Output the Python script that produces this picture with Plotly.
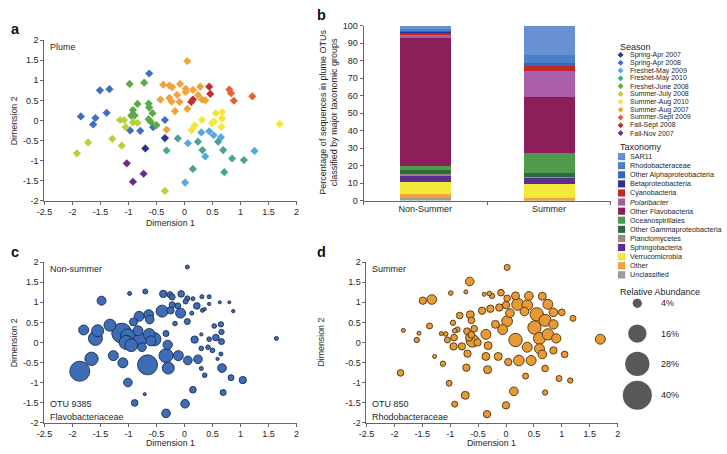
import math
import plotly.graph_objects as go

W, H = 727, 454
FONT = "Liberation Sans, Arial, Helvetica, sans-serif"
TXT = "#262626"
AXC = "#666666"

# ---------------- Panel a: NMDS of plume samples by season ----------------
season_names = ["Spring-Apr 2007", "Spring-Apr 2008", "Freshet-May 2009", "Freshet-May 2010",
                "Freshet-June 2008", "Summer-July 2008", "Summer-Aug 2010", "Summer-Aug 2007",
                "Summer-Sept 2009", "Fall-Sept 2008", "Fall-Nov 2007"]
season_colors = ["#28358c", "#3b70c2", "#57a8df", "#4aa396", "#5aab46", "#b5d23a",
                 "#f6e638", "#f0a33a", "#e4632f", "#bf2f35", "#6b2c8f"]
season_x = [
    [-0.35, -0.70],
    [-0.63, -1.51, -1.34, -1.39, -1.85, -1.59, -1.63, -0.97, -0.79, -0.56, -0.35],
    [0.06, 0.30, 0.44, 0.52, 0.65, 0.37, 0.01, 1.25],
    [-0.12, -0.32, 0.24, 0.32, 0.60, 0.69, 0.85, 1.06, 0.15, 0.71],
    [-0.98, -0.72, -0.84, -0.92, -0.64, -0.63, -0.57, -0.89, -0.95, -0.64, -0.60, -0.50],
    [-1.15, -1.08, -1.05, -1.29, -1.12, -1.72, -1.92, -0.92, -0.84, -0.35],
    [0.56, 0.67, 0.67, 0.53, 0.49, 0.66, 0.31, 0.18, 0.13, 1.70],
    [0.05, -0.38, -0.27, -0.22, -0.08, 0.02, 0.02, 0.15, 0.28, 0.24, -0.43, -0.27, -0.23,
     -0.13, -0.09, -0.17, 0.05, 0.31, 0.37, -0.32],
    [0.80, 0.83, 0.88, 1.21],
    [0.12, 0.15, 0.44, 0.46],
    [-1.03, -0.73, -0.92],
]
season_y = [
    [-0.44, -0.70],
    [1.17, 0.75, 0.78, 0.19, 0.10, 0.06, -0.10, -0.25, -0.26, -0.17, 0.01],
    [-0.57, -0.30, -0.27, -0.37, -0.42, -0.90, -1.55, -0.76],
    [-0.45, -0.75, -0.53, -0.74, -0.53, -0.74, -0.95, -0.99, -1.21, -1.29],
    [0.91, 0.94, 0.41, 0.26, 0.42, 0.32, 0.18, 0.12, 0.12, 0.03, -0.04, -0.12],
    [0.01, 0.01, -0.17, -0.46, -0.63, -0.55, -0.82, -0.05, -0.06, -1.76],
    [0.18, 0.21, 0.05, -0.03, -0.07, -0.16, 0.01, -0.13, -0.24, -0.09],
    [1.48, 0.89, 0.87, 0.83, 0.91, 0.79, 0.71, 0.76, 0.84, 0.63, 0.52, 0.56, 0.47,
     0.64, 0.46, 0.23, 0.29, 0.52, 0.50, -0.23],
    [0.77, 0.68, 0.49, 0.60],
    [0.46, 0.52, 0.84, 0.66],
    [-1.07, -1.33, -1.53],
]

# ---------------- Panel b: taxonomy stacked bars ----------------
bar_categories = ["Non-Summer", "Summer"]
taxa = ["SAR11", "Rhodobacteraceae", "Other Alphaproteobacteria", "Betaproteobacteria",
        "Cyanobacteria", "Polaribacter", "Other Flavobacteria", "Oceanospirillales",
        "Other Gammaproteobacteria", "Planctomycetes", "Sphingobacteria", "Verrucomicrobia",
        "Other", "Unclassified"]
taxa_colors = ["#6690d2", "#4a80ca", "#3569b3", "#26358f", "#c1272d", "#aa5ea7", "#8a1f59",
               "#4f9a4b", "#2d6a3e", "#9c8b7b", "#5b2f8f", "#f4e93b", "#efa43c", "#9c9c9c"]
non_summer_pct = [1.5, 1.0, 0.7, 0.3, 1.5, 2.0, 73.0, 2.5, 2.0, 1.0, 3.5, 7.0, 2.5, 1.5]
summer_pct = [16.3, 4.8, 1.5, 0.2, 2.8, 15.0, 32.1, 11.2, 2.5, 0.3, 3.4, 8.3, 1.0, 0.6]

# ---------------- Panel c: OTU 9385 (non-summer) bubbles ----------------
c_x = [0.05, -0.98, -0.70, -1.48, -0.38, -0.26, -0.22, -0.06, 0.05, 0.15, 0.31, 0.44, 0.63, 0.02,
       0.80, 0.87, 0.44, 0.32, 0.22, -0.12, 0.36, 0.13, 0.05, -0.17, -0.40, -0.25, -0.07, -0.22,
       -0.64, -0.62, -0.81, -0.91, -1.33, -1.80, -1.55, -1.59, -1.12, -0.83, -1.01, -0.92, -0.79,
       -1.04, -0.95, -0.63, -0.54, -0.60, -0.33, -0.76, -0.30, -1.27, -1.66, -1.87, -1.10, -0.66,
       -0.33, -0.29, -0.11, 0.06, 0.24, 0.18, 0.30, 0.30, 0.42, 0.50, 0.53, 0.65, 0.66, 0.56, 0.44,
       0.66, 0.59, 0.65, 0.67, 0.83, 1.04, 0.30, 0.36, -1.01, -0.71, -0.89, 0.15, 0.69, 0.01, -0.33,
       1.64]
c_y = [1.88, 1.22, 1.27, 1.04, 1.21, 1.19, 1.13, 1.21, 1.10, 1.09, 1.14, 1.14, 1.00, 1.02,
       1.00, 0.78, 0.96, 0.80, 0.91, 0.91, 0.83, 0.73, 0.52, 0.47, 0.78, 0.80, 0.73, 0.94,
       0.69, 0.57, 0.65, 0.51, 0.43, 0.31, 0.29, 0.10, 0.23, 0.29, 0.15, 0.10, 0.07,
       0.00, -0.07, 0.20, 0.08, 0.04, 0.22, -0.12, -0.06, -0.33, -0.41, -0.72, -0.51, -0.56,
       -0.33, -0.64, -0.33, -0.45, -0.42, 0.07, -0.15, 0.20, -0.12, -0.20, 0.41, 0.45, 0.26, 0.12,
       0.08, 0.02, -0.41, -0.29, -0.64, -0.88, -0.94, -0.65, -0.82, -1.00, -1.29, -1.51, -1.18,
       -1.25, -1.53, -1.77, 0.10]
c_abund = [0.76, 0.76, 1.18, 3.8, 2.55, 1.7, 1.7, 2.1, 1.18, 0.76, 0.76, 0.76, 0.43, 1.18,
           0.43, 0.53, 0.53, 0.76, 2.1, 1.7, 0.53, 0.76, 1.7, 1.03, 6.8, 2.55, 4.7, 1.7,
           4.7, 3.55, 4.7, 3.0, 6.8, 4.7, 6.8, 9.3, 18.9, 4.7, 10.6, 12.1, 8.4,
           9.3, 7.6, 6.4, 8.4, 4.7, 1.7, 3.55, 4.1, 4.7, 8.4, 18.9, 4.7, 18.9,
           9.3, 6.8, 4.7, 3.55, 3.55, 2.55, 1.03, 0.53, 1.03, 1.03, 1.03, 1.35, 1.35, 2.1,
           1.03, 1.7, 0.53, 0.76, 3.55, 1.7, 2.55, 0.76, 1.03, 3.55, 0.43, 2.1, 2.1,
           1.7, 3.55, 3.55, 0.76]

# ---------------- Panel d: OTU 850 (summer) bubbles ----------------
d_x = [0.02, -0.65, -0.99, -0.72, -1.49, -1.33, -0.39, -0.30, -0.25, -0.09, 0.02, 0.17, 0.21,
       0.41, 0.38, 0.33, 0.00, -0.12, -0.28, -0.43, 0.07, 0.02, -0.19, 0.51, 0.60, 0.17, 0.38,
       0.60, 0.23, 0.04, -0.14, -0.36, -0.32, -0.36, -0.33, 0.35, 0.14, 0.00, -0.34, -0.73,
       -0.92, -1.02, -0.71, -1.13, -1.28, -1.37, -1.60, -1.56, -1.84, -1.89, -0.83, -0.64, -0.62,
       -0.95, -0.87, -0.92, -1.16, -1.08, -0.93, -1.05, -0.94, -0.79, -0.70, -0.66, -0.60, -0.51,
       -0.62, -0.69, -0.06, -0.57, 0.65, 0.75, 0.85, 0.70, 0.55, 0.85, 0.75, 0.90, 0.65, 0.85,
       1.05, 0.70, 0.95, 1.15, 0.70, 0.45, 1.20, 1.00, 1.69]
d_y = [1.87, 1.52, 1.23, 1.26, 1.04, 1.07, 1.20, 1.22, 1.16, 1.24, 1.10, 1.16, 0.95,
       1.16, 0.93, 0.77, 0.93, 0.87, 0.84, 0.79, 0.73, 0.53, 0.45, 0.37, 0.10, 0.06, -0.12,
       -0.16, -0.45, -0.49, -0.35, -0.35, -0.08, 0.20, -0.68, -0.84, -1.22, -1.57, -1.79, -1.32,
       -1.54, -1.02, -0.63, -0.53, -0.35, 0.41, 0.06, 0.23, 0.30, -0.76, 0.67, 0.69, 0.55,
       0.49, 0.32, 0.29, 0.22, 0.21, 0.12, 0.06, -0.10, -0.10, 0.28, 0.12, 0.04, 0.00,
       0.19, -0.28, 0.32, 0.34, 1.15, 0.95, 0.75, 0.55, 0.70, 0.45, 0.20, 0.10, -0.30, -0.20,
       -0.30, -0.65, -0.90, -0.95, -1.25, -0.45, 0.60, 0.75, 0.08]
d_abund = [1.7, 3.55, 1.03, 0.76, 2.55, 4.4, 0.76, 1.03, 1.35, 2.1, 2.1, 3.0, 6.8,
           3.55, 5.4, 3.55, 2.55, 2.55, 2.55, 2.55, 3.55, 5.4, 3.0, 8.4, 6.8, 8.4, 4.7,
           4.7, 5.4, 2.55, 3.0, 3.0, 3.0, 4.7, 3.0, 1.7, 3.55, 2.55, 2.55, 3.0,
           1.7, 1.7, 2.55, 1.35, 0.76, 1.7, 1.35, 0.76, 0.76, 2.1, 2.1, 3.0, 2.1,
           1.35, 1.35, 1.03, 0.76, 1.03, 2.1, 1.7, 2.55, 2.55, 2.1, 2.55, 7.6, 2.55,
           2.1, 2.55, 4.7, 2.1, 3.0, 4.7, 3.55, 6.8, 8.4, 4.1, 6.1, 4.1, 3.55, 2.55,
           2.1, 2.1, 1.7, 1.35, 1.35, 4.7, 1.7, 2.1, 4.7]

# ---------------- Axis ticks / legend values ----------------
dim_x_ticks = [-2.5, -2, -1.5, -1, -0.5, 0, 0.5, 1, 1.5, 2]
dim_x_labels = ["-2.5", "-2", "-1.5", "-1", "-0.5", "0", "0.5", "1", "1.5", "2"]
dim_y_ticks = [-2, -1.5, -1, -0.5, 0, 0.5, 1, 1.5, 2]
dim_y_labels = ["-2", "-1.5", "-1", "-0.5", "0", "0.5", "1", "1.5", "2"]
pct_ticks = [0, 10, 20, 30, 40, 50, 60, 70, 80, 90, 100]
size_legend_values = [4, 16, 28, 40]
size_legend_labels = ["4%", "16%", "28%", "40%"]

K = 4.6  # px diameter per sqrt(%)


def bsize(vals):
    return [K * math.sqrt(v) for v in vals]


def px(x):
    return x / W


def py(y):
    return 1 - y / H


fig = go.Figure()

# Panel a
for name, col, xs, ys in zip(season_names, season_colors, season_x, season_y):
    fig.add_trace(go.Scatter(x=xs, y=ys, mode="markers", xaxis="x", yaxis="y", name=name,
                             marker=dict(symbol="diamond", size=6.3, color=col, line=dict(width=0)),
                             showlegend=False, cliponaxis=False))

# Panel b
for name, col, a, b in reversed(list(zip(taxa, taxa_colors, non_summer_pct, summer_pct))):
    fig.add_trace(go.Bar(x=bar_categories, y=[a, b], name=name, marker=dict(color=col, line=dict(width=0)),
                         width=0.41, xaxis="x2", yaxis="y2", showlegend=False))


def bubble_trace(xs, ys, ab, fill, edge, xa, ya):
    order = sorted(range(len(xs)), key=lambda i: -ab[i])
    return go.Scatter(x=[xs[i] for i in order], y=[ys[i] for i in order], mode="markers",
                      xaxis=xa, yaxis=ya, showlegend=False, cliponaxis=False,
                      marker=dict(size=bsize([ab[i] for i in order]), color=fill,
                                  line=dict(color=edge, width=0.9), opacity=1))


fig.add_trace(bubble_trace(c_x, c_y, c_abund, "#3e6db5", "#1b2b55", "x3", "y3"))
fig.add_trace(bubble_trace(d_x, d_y, d_abund, "#e99a35", "#4a3010", "x4", "y4"))

# Legend marks on a pixel overlay axis (positions from item index)
n_s = len(season_names)
fig.add_trace(go.Scatter(x=[622] * n_s, y=[51 + 8 * i for i in range(n_s)], mode="markers",
                         xaxis="x5", yaxis="y5", showlegend=False, cliponaxis=False,
                         marker=dict(symbol="diamond", size=4.5, color=season_colors)))
n_t = len(taxa)
fig.add_trace(go.Scatter(x=[623] * n_t, y=[155 + 9.3 * i for i in range(n_t)], mode="markers",
                         xaxis="x5", yaxis="y5", showlegend=False, cliponaxis=False,
                         marker=dict(symbol="square", size=7, color=taxa_colors,
                                     line=dict(color="rgba(0,0,0,0.15)", width=0.5))))
fig.add_trace(go.Scatter(x=[639] * 4, y=[305, 336, 367, 399], mode="markers",
                         xaxis="x5", yaxis="y5", showlegend=False, cliponaxis=False,
                         marker=dict(size=bsize(size_legend_values), color="#111111",
                                     line=dict(width=0))))

ann = []


def text(x, y, s, size=9, anchor="left", bold=False, angle=0, color=TXT, italic=False):
    if bold:
        s = "<b>" + s + "</b>"
    if italic:
        s = "<i>" + s + "</i>"
    ann.append(dict(x=px(x), y=py(y), xref="paper", yref="paper", text=s, showarrow=False,
                    xanchor=anchor, yanchor="middle", textangle=angle,
                    font=dict(family=FONT, size=size, color=color)))


# Panel letters
text(8, 25, "a", 14.5, "center", True, color="#111")
text(318, 10, "b", 14.5, "center", True, color="#111")
text(7, 253, "c", 14.5, "center", True, color="#111")
text(318, 253, "d", 14.5, "center", True, color="#111")

# Inner labels
text(41, 43, "Plume", 9)
text(41, 270, "Non-summer", 9)
text(41, 408, "OTU 9385", 9)
text(41, 421, "Flavobacteriaceae", 9)
text(368, 270, "Summer", 9)
text(368, 408, "OTU 850", 9)
text(368, 421, "Rhodobacteraceae", 9)

# Axis titles
text(165, 223, "Dimension 1", 8.8, "center")
text(165, 448, "Dimension 1", 8.8, "center")
text(491, 448, "Dimension 1", 8.8, "center")
text(6, 118, "Dimension 2", 8.8, "center", angle=-90)
text(6, 345, "Dimension 2", 8.8, "center", angle=-90)
text(318, 345, "Dimension 2", 8.8, "center", angle=-90)
text(325, 110, "Percentage of sequences in plume OTUs<br>classified by major taxonomic groups",
     9, "center", angle=-90)

# Legend text
text(619, 43, "Season", 9)
for i, s in enumerate(season_names):
    text(630, 51 + 8 * i, s, 7.0)
text(619, 145, "Taxonomy", 9)
for i, s in enumerate(taxa):
    text(630, 155 + 9.3 * i, s, 7.2, italic=(s == "Polaribacter"))
text(619, 293, "Relative Abundance", 9)
for yy, s in zip([305, 336, 367, 399], size_legend_labels):
    text(661, yy, s, 9)

tickfont = dict(family=FONT, size=9, color=TXT)


def dim_axis(dom, anchor, rng, tv, tt):
    return dict(domain=dom, anchor=anchor, range=rng, tickvals=tv, ticktext=tt, showline=True,
                linecolor=AXC, linewidth=1, ticks="outside", ticklen=3, tickcolor=AXC,
                showgrid=False, zeroline=False, tickfont=tickfont, fixedrange=True)


ya = [py(200), py(36)]
yc = [py(427), py(263)]

fig.update_layout(
    width=W, height=H, margin=dict(l=0, r=0, t=0, b=0),
    paper_bgcolor="white", plot_bgcolor="rgba(0,0,0,0)",
    barmode="stack", bargap=0.0, showlegend=False,
    font=dict(family=FONT, color=TXT),
    xaxis=dim_axis([px(37), px(293)], "y", [-2.5, 2], dim_x_ticks, dim_x_labels),
    yaxis=dim_axis(ya, "x", [-2, 2], dim_y_ticks, dim_y_labels),
    xaxis2=dict(domain=[px(361), px(612)], anchor="y2", range=[-0.5, 1.5], type="category",
                showline=True, linecolor=AXC, linewidth=1, ticks="outside", ticklen=3,
                tickcolor=AXC, tickson="boundaries", showgrid=False, zeroline=False,
                tickfont=tickfont, fixedrange=True),
    yaxis2=dict(domain=[py(200), py(21)], anchor="x2", range=[0, 100], tickvals=pct_ticks,
                showline=True, linecolor=AXC, linewidth=1, ticks="outside", ticklen=3,
                tickcolor=AXC, showgrid=False, zeroline=False, tickfont=tickfont, fixedrange=True),
    xaxis3=dim_axis([px(37), px(293)], "y3", [-2.5, 2], dim_x_ticks, dim_x_labels),
    yaxis3=dim_axis(yc, "x3", [-2, 2], dim_y_ticks, dim_y_labels),
    xaxis4=dim_axis([px(364), px(619)], "y4", [-2.5, 2], dim_x_ticks, dim_x_labels),
    yaxis4=dim_axis(yc, "x4", [-2, 2], dim_y_ticks, dim_y_labels),
    xaxis5=dict(domain=[0, 1], anchor="y5", range=[0, W], visible=False, fixedrange=True),
    yaxis5=dict(domain=[0, 1], anchor="x5", range=[H, 0], visible=False, fixedrange=True),
    annotations=ann,
)

fig.write_html("out.html", config={"displayModeBar": False},
               post_script="document.body.style.margin='0';document.body.style.overflow='hidden';")
